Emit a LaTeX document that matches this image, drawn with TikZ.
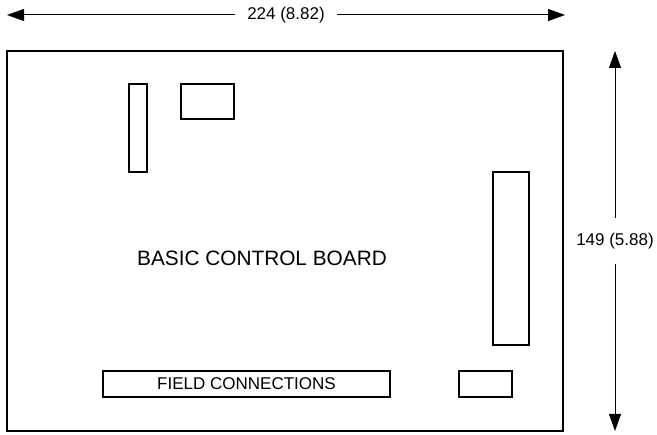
\documentclass[tikz,border=0pt]{standalone}
\usepackage{fontspec}
\setmainfont{Liberation Sans}
\usetikzlibrary{arrows.meta,positioning,calc}
\tikzset{part/.style={draw,line width=1.2pt,inner sep=0pt},
dimline/.style={line width=1pt,{Triangle[length=17pt,width=12pt]}-{Triangle[length=17pt,width=12pt]}},
dimlabel/.style={fill=white,inner xsep=12pt,inner ysep=15pt,font=\fontsize{17}{20}\selectfont}}

\begin{document}
\begin{tikzpicture}[x=1pt,y=-1pt]
\useasboundingbox (0,0) rectangle (657,435);
\node[part,line width=1.5pt,minimum width=556pt,minimum height=380pt] (board) at (285,241) {};
\node[font=\fontsize{20.8}{24}\selectfont] (title) at (262,258) {BASIC CONTROL BOARD};
\node[part,minimum width=18pt,minimum height=88pt] (hdr) at (138,128) {};\node[part,minimum width=53pt,minimum height=35pt] (chip) at (207.5,101.5) {};
\node[part,minimum width=36pt,minimum height=173pt] (term) at (511,258.5) {};
\node[part,minimum width=287pt,minimum height=26pt,font=\fontsize{17}{20}\selectfont] (field) at (246.5,384) {FIELD CONNECTIONS};
\node[part,minimum width=53pt,minimum height=26pt] (aux) at (485.5,384) {};
\coordinate (wl) at (7,15);\coordinate (wr) at (565,15);\coordinate (ht) at (615,51);\coordinate (hb) at (615,431);
\draw[dimline] (wl)--(wr) node[midway,dimlabel] {224 (8.82)};\draw[dimline] (ht)--(hb) node[pos=0.5,dimlabel] {149 (5.88)};
\end{tikzpicture}
\end{document}
